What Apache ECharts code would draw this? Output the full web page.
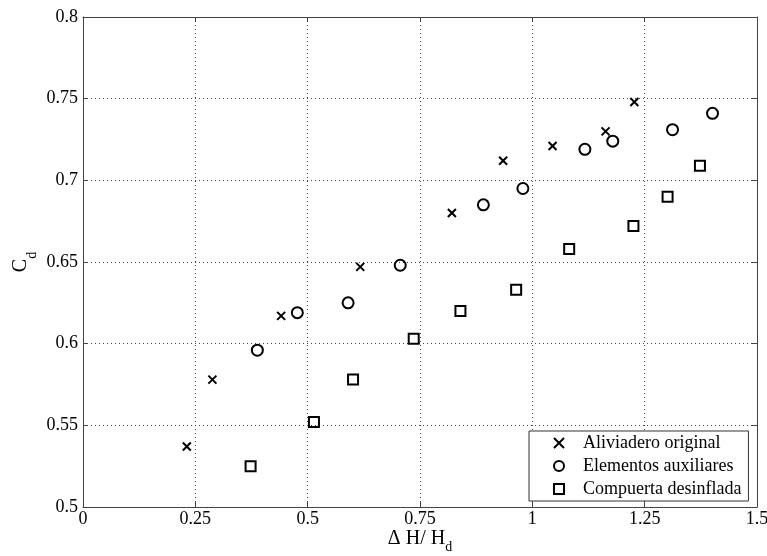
<!DOCTYPE html>
<html>
<head>
<meta charset="utf-8">
<script src="https://cdn.jsdelivr.net/npm/echarts@6/dist/echarts.min.js"></script>
<style>html,body{margin:0;padding:0;background:#fff;overflow:hidden}#c{position:absolute;left:0;top:0;width:767px;height:556px}</style>
</head>
<body>
<div id="c"></div>
<script>
const seriesNames = ['Aliviadero original', 'Elementos auxiliares', 'Compuerta desinflada'];
const aliviaderoX = [0.231, 0.288, 0.441, 0.617, 0.821, 0.935, 1.045, 1.163, 1.227];
const aliviaderoY = [0.537, 0.578, 0.617, 0.647, 0.680, 0.712, 0.721, 0.730, 0.748];
const elementosX = [0.388, 0.477, 0.590, 0.706, 0.891, 0.979, 1.117, 1.179, 1.312, 1.401];
const elementosY = [0.596, 0.619, 0.625, 0.648, 0.685, 0.695, 0.719, 0.724, 0.731, 0.741];
const compuertaX = [0.373, 0.514, 0.601, 0.736, 0.840, 0.964, 1.082, 1.225, 1.301, 1.373];
const compuertaY = [0.525, 0.552, 0.578, 0.603, 0.620, 0.633, 0.658, 0.672, 0.690, 0.709];
const xTicks = ['0', '0.25', '0.5', '0.75', '1', '1.25', '1.5'];
const yTicks = ['0.5', '0.55', '0.6', '0.65', '0.7', '0.75', '0.8'];

const FONT = 'Liberation Serif';
const zip = (xs, ys) => xs.map((x, i) => [x, ys[i]]);
const crossPath = 'path://M0,0L10,10M10,0L0,10';

const chart = echarts.init(document.getElementById('c'), null, { width: 767, height: 556 });
const gridLine = { show: true, lineStyle: { color: '#444', type: [1, 3], width: 1 } };
const frameLine = { show: true, onZero: false, lineStyle: { color: '#444', width: 1 } };
const tickIn = { show: true, inside: true, length: 5, lineStyle: { color: '#444' } };

chart.setOption({
  animation: false,
  backgroundColor: '#fff',
  grid: { left: 83, right: 10, top: 17, bottom: 49, containLabel: false, outerBoundsMode: 'none' },
  xAxis: [{
    type: 'value', min: 0, max: 1.5, interval: 0.25,
    axisLine: frameLine, axisTick: tickIn, splitLine: gridLine,
    axisLabel: { color: '#000', fontFamily: FONT, fontSize: 18, margin: 3,
      formatter: v => xTicks[Math.round(v / 0.25)] },
    name: '{a|\u0394 H/ H}{b|d}', nameLocation: 'middle', nameGap: 17, nameMoveOverlap: false,
    nameTextStyle: { rich: {
      a: { fontFamily: FONT, fontSize: 20, color: '#000', lineHeight: 30, verticalAlign: 'middle' },
      b: { fontFamily: FONT, fontSize: 14, color: '#000', lineHeight: 30, verticalAlign: 'bottom' } } }
  }, {
    type: 'value', position: 'top', min: 0, max: 1.5, interval: 0.25,
    axisLine: frameLine, axisTick: tickIn, axisLabel: { show: false }, splitLine: { show: false }
  }],
  yAxis: [{
    type: 'value', min: 0.5, max: 0.8, interval: 0.05,
    axisLine: frameLine, axisTick: tickIn, splitLine: gridLine,
    axisLabel: { color: '#000', fontFamily: FONT, fontSize: 18, margin: 5,
      formatter: v => yTicks[Math.round((v - 0.5) / 0.05)] },
    name: '{a|C}{b|d}', nameLocation: 'middle', nameGap: 44, nameRotate: 90, nameMoveOverlap: false,
    nameTextStyle: { rich: {
      a: { fontFamily: FONT, fontSize: 20, color: '#000', lineHeight: 36, verticalAlign: 'middle' },
      b: { fontFamily: FONT, fontSize: 14, color: '#000', lineHeight: 36, verticalAlign: 'bottom' } } }
  }, {
    type: 'value', position: 'right', min: 0.5, max: 0.8, interval: 0.05,
    axisLine: frameLine, axisTick: tickIn, axisLabel: { show: false }, splitLine: { show: false }
  }],
  legend: {
    orient: 'vertical', left: 529, top: 431,
    backgroundColor: '#fff', borderColor: '#333', borderWidth: 1,
    padding: [3, 7, 3, 24], itemGap: 5, itemWidth: 10, itemHeight: 10,
    textStyle: { fontFamily: FONT, fontSize: 18, color: '#000', padding: [0, 0, 0, 14] },
    data: seriesNames
  },
  series: [{
    name: seriesNames[0], type: 'scatter', data: zip(aliviaderoX, aliviaderoY),
    symbol: crossPath, symbolSize: 8,
    itemStyle: { color: 'transparent', borderColor: '#000', borderWidth: 2, opacity: 1 }
  }, {
    name: seriesNames[1], type: 'scatter', data: zip(elementosX, elementosY),
    symbol: 'circle', symbolSize: 11,
    itemStyle: { color: 'transparent', borderColor: '#000', borderWidth: 2, opacity: 1 }
  }, {
    name: seriesNames[2], type: 'scatter', data: zip(compuertaX, compuertaY),
    symbol: 'rect', symbolSize: 10,
    itemStyle: { color: 'transparent', borderColor: '#000', borderWidth: 2, opacity: 1 }
  }]
});
</script>
</body>
</html>
